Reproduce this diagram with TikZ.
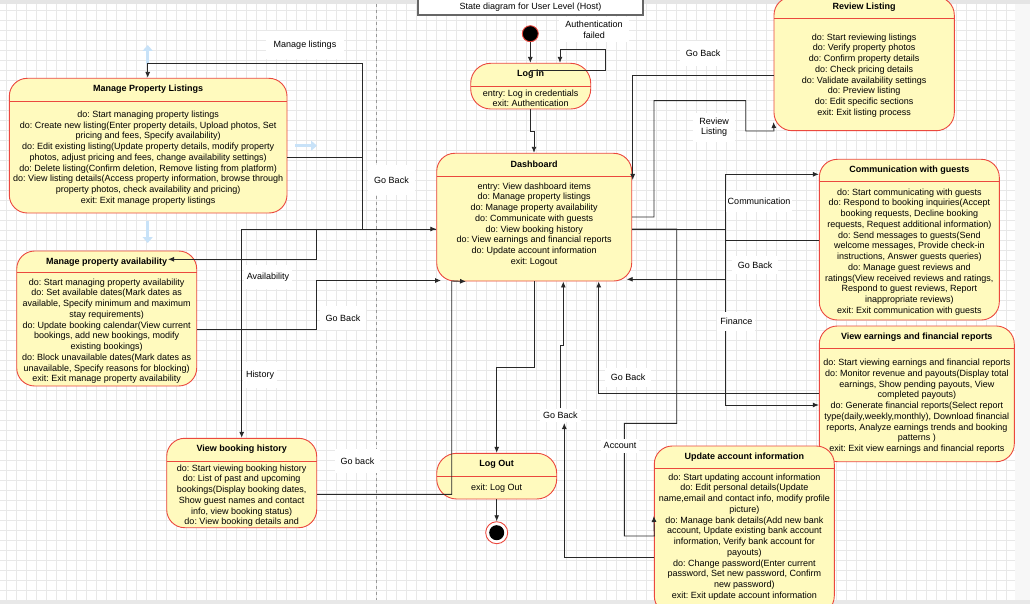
\documentclass[tikz,border=0pt]{standalone}
\usepackage{fontspec}
\setmainfont{Liberation Sans}
\frenchspacing
\usetikzlibrary{arrows.meta,fit}
\definecolor{stfill}{RGB}{255,250,190}
\definecolor{ststroke}{RGB}{235,72,62}
\definecolor{conncol}{RGB}{40,40,40}
\definecolor{gridcol}{RGB}{232,232,232}
\definecolor{hint}{RGB}{200,226,248}
\def\strad{18pt}
\tikzset{
 stboxst/.style={draw=ststroke, fill=stfill, line width=0.9pt, rounded corners=\strad, inner sep=0pt},
 stline/.style={draw=ststroke, line width=0.9pt},
 sttitle/.style={font=\fontsize{9}{10.75}\selectfont\bfseries, inner sep=0pt},
 stbody/.style={font=\fontsize{9}{10.75}\selectfont, align=center, inner sep=0pt},
 conn/.style={draw=conncol, line width=0.9pt, -{Latex[length=6pt,width=5pt]}},
 lbl/.style={fill=white, font=\fontsize{9}{10.75}\selectfont, inner xsep=6pt, inner ysep=9pt, align=center},
 hintarrow/.style={draw=hint, line width=3pt, -{Triangle[length=6pt,width=10pt]}},
 gridline/.style={draw=gridcol, line width=0.4pt},
}
\newcommand\mkstate[9]{%
 \node[stboxst, fit={(#2,#3) (#4,#5)}] (#1) {};
 \draw[stline] (#2,#6) -- (#4,#6);
 \node[sttitle] (#1-title) at ({(#2+#4)/2},{(#3+#6)/2}) {#8};
 \node[stbody, anchor=north] (#1-body) at ({(#2+#4)/2},{#7-3.4}) {#9};
}
\begin{document}
\begin{tikzpicture}[x=1pt,y=-1pt]
\useasboundingbox (0,0) rectangle (1030,604);
\begin{scope}
\clip (0,0) rectangle (1030,604);
% background
\fill[white] (0,0) rectangle (1030,604);
\foreach \x in {6,16,...,1006} \draw[gridline] (\x,4) -- (\x,600);
\foreach \y in {10,20,...,590} \draw[gridline] (0,\y) -- (1015,\y);
\fill[black!3] (1015,4) rectangle (1030,600);
\fill[black!10] (0,0) rectangle (1030,4);
\fill[black!9] (0,600) rectangle (1030,604);
\draw[black!40, line width=0.6pt, dash pattern=on 3pt off 3pt] (376,4) -- (376,600);
% hint arrows
\draw[hintarrow] (147.7,64) -- (147.7,45);
\draw[hintarrow] (295,145.7) -- (317,145.7);
\draw[hintarrow] (147.7,221) -- (147.7,243);
% title box
\node[draw=black!60, line width=1.6pt, fill=white, inner sep=0pt, fit={(418,-8) (643,15)}] (titlebox) {};
\node[font=\fontsize{9}{10.75}\selectfont, inner sep=0pt] (titletext) at (530.5,6.7) {State diagram for User Level (Host)};
% initial / final
\node[circle, fill=black, draw=ststroke, line width=0.9pt, minimum size=16pt, inner sep=0pt] (init) at (530.3,33.7) {};
\node[circle, fill=white, draw=ststroke, line width=0.9pt, minimum size=22pt, inner sep=0pt] (fin) at (496.7,532.7) {};
\node[circle, fill=black, minimum size=15pt, inner sep=0pt] (finc) at (fin) {};
% states
\def\strad{20pt}
\mkstate{login}{470.7}{63.3}{590.7}{109}{86}{92.7}{Log in}{entry: Log in credentials\\exit: Authentication}
\mkstate{logout}{436.7}{453.3}{556.7}{499}{476}{486.7}{Log Out}{exit: Log Out}
\def\strad{18pt}
\mkstate{dash}{436.7}{153.3}{631.7}{281}{176}{185.7}{Dashboard}{entry: View dashboard items\\do: Manage property listings\\do: Manage property availability\\do: Communicate with guests\\do: View booking history\\do: View earnings and financial reports\\do: Update account information\\exit: Logout}
\mkstate{rev}{774}{-3}{954.3}{130.7}{18.3}{36.7}{Review Listing}{do: Start reviewing listings\\do: Verify property photos\\do: Confirm property details\\do: Check pricing details\\do: Validate availability settings\\do: Preview listing\\do: Edit specific sections\\exit: Exit listing process}
\mkstate{mpl}{9.3}{78.3}{287}{213}{101}{114}{Manage Property Listings}{do: Start managing property listings\\do: Create new listing(Enter property details, Upload photos, Set\\pricing and fees, Specify availability)\\do: Edit existing listing(Update property details, modify property\\photos, adjust pricing and fees, change availability settings)\\do: Delete listing(Confirm deletion, Remove listing from platform)\\do: View listing details(Access property information, browse through\\property photos, check availability and pricing)\\exit: Exit manage property listings}
\mkstate{mpa}{16.7}{251}{196.7}{386}{272.7}{281.7}{Manage property availability}{do: Start managing property availability\\do: Set available dates(Mark dates as\\available, Specify minimum and maximum\\stay requirements)\\do: Update booking calendar(View current\\bookings, add new bookings, modify\\existing bookings)\\do: Block unavailable dates(Mark dates as\\unavailable, Specify reasons for blocking)\\exit: Exit manage property availability}
\mkstate{vbh}{166.7}{438.3}{316.7}{527.7}{461}{467.7}{View booking history}{do: Start viewing booking history\\do: List of past and upcoming\\bookings(Display booking dates,\\Show guest names and contact\\info, view booking status)\\do: View booking details and}
\mkstate{comm}{819.3}{159.3}{999.3}{320}{181.7}{191.7}{Communication with guests}{do: Start communicating with guests\\do: Respond to booking inquiries(Accept\\booking requests, Decline booking\\requests, Request additional information)\\do: Send messages to guests(Send\\welcome messages, Provide check-in\\instructions, Answer guests queries)\\do: Manage guest reviews and\\ratings(View received reviews and ratings,\\Respond to guest reviews, Report\\inappropriate reviews)\\exit: Exit communication with guests}
\mkstate{earn}{819.3}{326}{1014.3}{461.7}{348.3}{362.3}{View earnings and financial reports}{do: Start viewing earnings and financial reports\\do: Monitor revenue and payouts(Display total\\earnings, Show pending payouts, View\\completed payouts)\\do: Generate financial reports(Select report\\type(daily,weekly,monthly), Download financial\\reports, Analyze earnings trends and booking\\patterns )\\exit: Exit view earnings and financial reports}
\mkstate{upd}{654.3}{446}{834.3}{614}{468.3}{476.7}{Update account information}{do: Start updating account information\\do: Edit personal details(Update\\name,email and contact info, modify profile\\picture)\\do: Manage bank details(Add new bank\\account, Update existing bank account\\information, Verify bank account for\\payouts)\\do: Change password(Enter current\\password, Set new password, Confirm\\new password)\\exit: Exit update account information}
% connectors
\coordinate (authA) at (530,70.7);
\coordinate (availEnd) at (168,259.3);
\coordinate (mpaBackEnd) at (441,280.5);
\coordinate (gbUpdEnd) at (564.3,423);
\coordinate (gbUpdStart) at (560.3,408);
\draw[conn] (init.south) -- (init.south |- login.north);
\draw[conn] (authA) -- (605.7,70.7) -- (605.7,49) -- (560,49) -- (560,0 |- login.north);
\draw[conn] (530,0 |- login.south) -- (530,131.7) -- (534,131.7) -- (534,0 |- dash.north);
\draw[conn] (dash.west |- 0,229) -- (362,229) -- (362,63) -- (147.7,63) -- (147.7,0 |- mpl.north);
\draw[conn] (mpl.east |- 0,157) -- (362,157) -- (362,229) -- (dash.west |- 0,229);
\draw[conn] (dash.west |- 0,229) -- (316.7,229) -- (316.7,259.3) -- (availEnd);
\draw[conn] (dash.west |- 0,229) -- (241.7,229) -- (241.7,0 |- vbh.north);
\draw[conn] (mpa.east |- 0,329.3) -- (316.7,329.3) -- (316.7,280.5) -- (mpaBackEnd);
\draw[conn] (vbh.east |- 0,494.3) -- (451.7,494.3) -- (451.7,281) -- (466,0 |- dash.south);
\draw[conn] (534.3,0 |- dash.south) -- (534.3,367.3) -- (496.7,367.3) -- (496.7,0 |- logout.north);
\draw[conn] (496.7,0 |- logout.south) -- (fin.north);
\draw[conn] (dash.east |- 0,217) -- (654,217) -- (654,100.7) -- (745.7,100.7) -- (745.7,131) -- (774,131) -- (rev.west |- 0,122);
\draw[conn] (rev.west |- 0,75) -- (632.7,75) -- (632.7,180);
\draw[conn] (dash.east |- 0,229) -- (725.7,229) -- (725.7,174.3) -- (comm.west |- 0,174.3);
\draw[conn] (comm.west |- 0,240) -- (725.7,240) -- (725.7,279.3) -- (626.7,279.3);
\draw[conn] (dash.east |- 0,229) -- (725.7,229) -- (725.7,405) -- (earn.west |- 0,405);
\draw[conn] (earn.west |- 0,393.3) -- (598.7,393.3) -- (598.7,0 |- dash.south);
\draw[conn] (dash.east |- 0,229) -- (676.7,229) -- (676.7,423.3) -- (624.3,423.3) -- (624.3,536) -- (654.3,536) -- (upd.west |- 0,516);
\draw[conn] (upd.west |- 0,557.7) -- (564.3,557.7) -- (gbUpdEnd);
\draw[conn] (gbUpdStart) -- (560.3,345) -- (563.3,345) -- (563.3,0 |- dash.south);
% labels
\node[lbl, inner xsep=8pt, inner ysep=10pt] (lManage) at (305,45) {Manage listings};
\node[lbl, inner ysep=12pt] (lGoMpl) at (391.5,180) {Go Back};
\node[lbl, inner xsep=3pt, inner ysep=8pt] (lAvail) at (268,277) {Availability};
\node[lbl] (lGoMpa) at (343,318) {Go Back};
\node[lbl, inner xsep=3pt] (lHist) at (260,375) {History};
\node[lbl] (lGoVbh) at (357.5,461) {Go back};
\node[lbl, inner ysep=4pt] (lAuth) at (594,29.7) {Authentication\\failed};
\node[lbl] (lGoRev) at (703,53.3) {Go Back};
\node[lbl, inner ysep=5pt] (lRev) at (714,127.2) {Review\\Listing};
\node[lbl, inner xsep=1.5pt, inner ysep=7pt] (lComm) at (759,201.7) {Communication};
\node[lbl, inner ysep=6pt] (lGoComm) at (755,265) {Go Back};
\node[lbl, inner xsep=3pt, inner ysep=6pt] (lFin) at (736.3,321.7) {Finance};
\node[lbl, inner ysep=6pt] (lGoEarn) at (628,377.3) {Go Back};
\node[lbl, inner xsep=3pt, inner ysep=3pt] (lGoUpd) at (560.3,415.7) {Go Back};
\node[lbl, inner xsep=3pt, inner ysep=4pt] (lAcc) at (620,445.7) {Account};
\end{scope}
\end{tikzpicture}
\end{document}
